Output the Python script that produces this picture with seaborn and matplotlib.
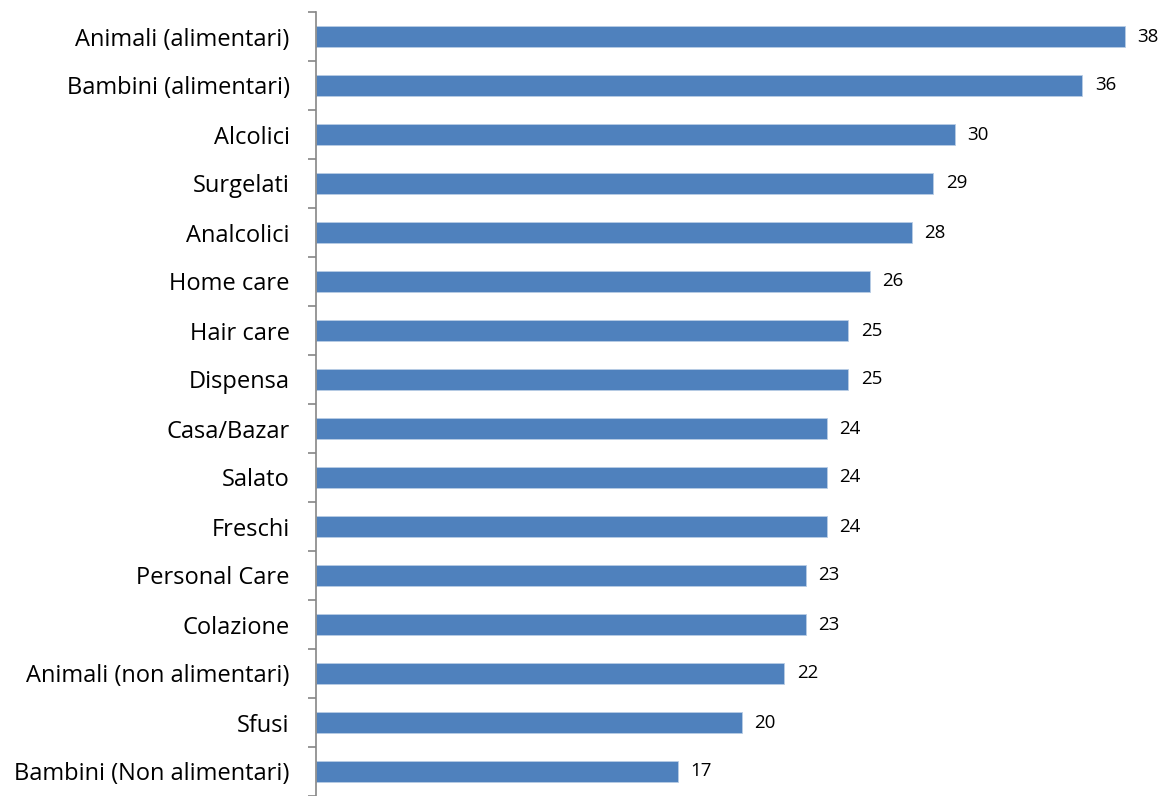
import matplotlib
matplotlib.use("Agg")
import matplotlib.pyplot as plt
import seaborn as sns
import pandas as pd
import numpy as np

categories = [
    "Animali (alimentari)", "Bambini (alimentari)", "Alcolici", "Surgelati",
    "Analcolici", "Home care", "Hair care", "Dispensa", "Casa/Bazar", "Salato",
    "Freschi", "Personal Care", "Colazione", "Animali (non alimentari)",
    "Sfusi", "Bambini (Non alimentari)",
]
values = [38, 36, 30, 29, 28, 26, 25, 25, 24, 24, 24, 23, 23, 22, 20, 17]

df = pd.DataFrame({"categoria": categories, "valore": values})

sns.set_style("white")
plt.rcParams["font.family"] = ["Open Sans", "DejaVu Sans"]

fig = plt.figure(figsize=(11.63, 7.96), dpi=100)
ax = fig.add_axes([316 / 1163, 0.0, 1 - 316 / 1163, 1 - 12 / 796])

sns.barplot(data=df, y="categoria", x="valore", orient="h", color="#4F81BD",
            saturation=1, width=0.41, edgecolor="#B9CDE5", linewidth=0.6, ax=ax)

for c in ax.containers:
    ax.bar_label(c, labels=[f"{v:d}" for v in values], padding=9, fontsize=13.5,
                 color="black")

ax.set_xlim(0, (1163 - 316) / ((1125 - 316) / 38))
ax.set_ylim(len(categories) - 0.5, -0.5)
ax.set_xlabel("")
ax.set_ylabel("")
ax.set_xticks([])

ax.set_yticks(np.arange(len(categories)))
ax.set_yticklabels(categories, fontsize=17, color="black")
ax.tick_params(axis="y", which="major", left=False, length=0, pad=19)
ax.set_yticks(np.arange(len(categories) + 1) - 0.5, minor=True)
ax.tick_params(axis="y", which="minor", left=True, length=6, width=1.2,
               color="#868686")

for side in ["top", "right", "bottom"]:
    ax.spines[side].set_visible(False)
ax.spines["left"].set_color("#868686")
ax.spines["left"].set_linewidth(1.2)

fig.savefig("out.png", dpi=100)
